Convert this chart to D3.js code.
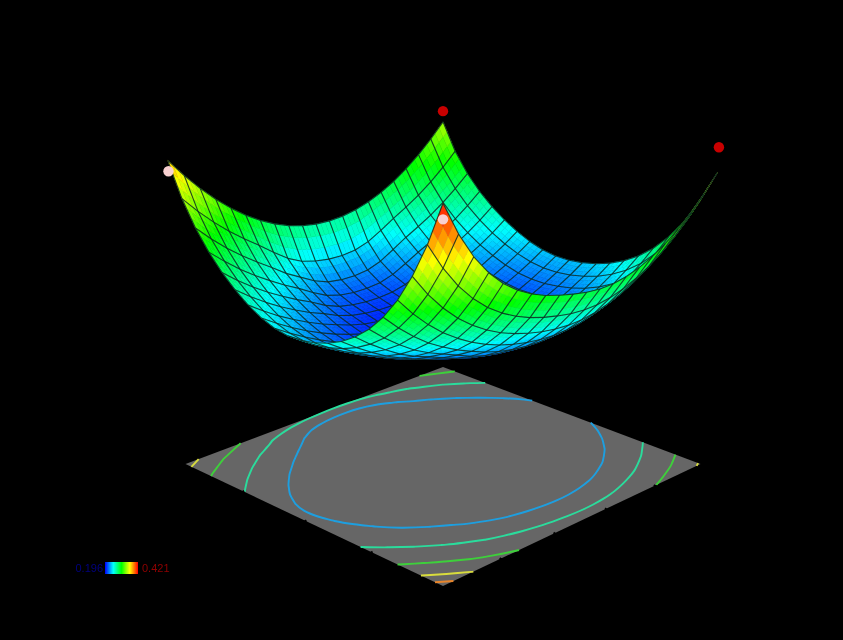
<!DOCTYPE html>
<html>
<head>
<meta charset="utf-8">
<script src="https://d3js.org/d3.v7.min.js"></script>
<style>
  html, body { margin: 0; background: #000; overflow: hidden; }
  text { font-family: "Liberation Sans", Arial, sans-serif; }
</style>
</head>
<body>
<script>
// factor coded levels, u runs along columns and v along rows
var uLevels = [-1,-0.9,-0.8,-0.7,-0.6,-0.5,-0.4,-0.3,-0.2,-0.1,0,0.1,0.2,0.3,0.4,0.5,0.6,0.7,0.8,0.9,1];
var vLevels = [-1,-0.9,-0.8,-0.7,-0.6,-0.5,-0.4,-0.3,-0.2,-0.1,0,0.1,0.2,0.3,0.4,0.5,0.6,0.7,0.8,0.9,1];

// response, one row per v level
var response = [
  [.3474,.3192,.2986,.2829,.2703,.2601,.2516,.2450,.2403,.2379,.2378,.2396,.2430,.2481,.2553,.2647,.2771,.2930,.3131,.3382,.3694],
  [.3324,.3055,.2861,.2714,.2597,.2501,.2422,.2361,.2317,.2295,.2294,.2310,.2342,.2389,.2455,.2543,.2658,.2807,.2997,.3235,.3533],
  [.3192,.2934,.2750,.2612,.2502,.2413,.2340,.2282,.2241,.2220,.2219,.2235,.2264,.2308,.2369,.2450,.2558,.2699,.2879,.3106,.3392],
  [.3077,.2829,.2653,.2523,.2420,.2336,.2267,.2212,.2174,.2154,.2154,.2169,.2196,.2237,.2294,.2370,.2472,.2606,.2777,.2995,.3271],
  [.2980,.2739,.2570,.2446,.2350,.2271,.2205,.2154,.2117,.2098,.2098,.2112,.2138,.2176,.2230,.2303,.2399,.2527,.2692,.2902,.3169],
  [.2900,.2658,.2493,.2376,.2286,.2214,.2152,.2104,.2070,.2052,.2052,.2066,.2090,.2127,.2178,.2247,.2340,.2463,.2623,.2827,.3087],
  [.2838,.2570,.2406,.2298,.2221,.2160,.2107,.2064,.2032,.2016,.2016,.2029,.2053,.2088,.2137,.2204,.2294,.2414,.2570,.2770,.3025],
  [.2793,.2491,.2323,.2225,.2162,.2114,.2071,.2032,.2004,.1988,.1989,.2002,.2026,.2060,.2108,.2174,.2262,.2379,.2532,.2730,.2982],
  [.2766,.2444,.2273,.2181,.2126,.2085,.2047,.2013,.1986,.1971,.1971,.1985,.2008,.2042,.2090,.2155,.2243,.2359,.2512,.2708,.2959],
  [.2757,.2430,.2257,.2167,.2114,.2075,.2037,.2004,.1977,.1962,.1963,.1977,.2001,.2035,.2084,.2149,.2237,.2354,.2507,.2704,.2955],
  [.2765,.2435,.2260,.2169,.2116,.2076,.2039,.2004,.1979,.1964,.1965,.1979,.2004,.2039,.2089,.2155,.2245,.2364,.2519,.2717,.2971],
  [.2790,.2459,.2282,.2189,.2132,.2091,.2052,.2017,.1990,.1975,.1976,.1991,.2017,.2054,.2105,.2173,.2264,.2386,.2542,.2744,.3000],
  [.2833,.2501,.2340,.2232,.2163,.2117,.2075,.2038,.2010,.1995,.1997,.2013,.2040,.2078,.2131,.2202,.2296,.2419,.2577,.2779,.3036],
  [.2894,.2577,.2425,.2310,.2222,.2164,.2113,.2071,.2041,.2025,.2027,.2044,.2072,.2119,.2177,.2250,.2343,.2462,.2623,.2825,.3082],
  [.2972,.2686,.2510,.2400,.2305,.2232,.2166,.2115,.2082,.2065,.2067,.2086,.2115,.2166,.2235,.2312,.2400,.2519,.2682,.2887,.3142],
  [.3068,.2802,.2616,.2482,.2377,.2293,.2223,.2168,.2132,.2114,.2117,.2135,.2168,.2221,.2295,.2374,.2466,.2590,.2757,.2965,.3224],
  [.3181,.2912,.2718,.2573,.2459,.2366,.2290,.2231,.2191,.2172,.2176,.2196,.2231,.2284,.2353,.2438,.2545,.2678,.2851,.3066,.3332],
  [.3312,.3031,.2826,.2671,.2547,.2447,.2366,.2303,.2260,.2240,.2244,.2266,.2303,.2355,.2425,.2516,.2634,.2781,.2966,.3195,.3475],
  [.3460,.3165,.2947,.2781,.2648,.2540,.2452,.2384,.2339,.2318,.2322,.2345,.2385,.2442,.2518,.2617,.2745,.2907,.3109,.3357,.3662],
  [.3626,.3314,.3083,.2904,.2760,.2644,.2549,.2476,.2428,.2405,.2410,.2435,.2478,.2539,.2623,.2732,.2875,.3055,.3281,.3561,.3904],
  [.3810,.3480,.3233,.3040,.2885,.2759,.2656,.2578,.2526,.2502,.2507,.2535,.2581,.2648,.2741,.2864,.3024,.3229,.3489,.3811,.4210]
];

// design points sitting off the surface at the four corners
var pointU = [-1, 1, 1, -1];
var pointV = [-1, -1, 1, 1];
var pointZ = [0.359, 0.3939, 0.4073, 0.3707];

var contourLevels = [0.243, 0.2755, 0.319, 0.364, 0.399];
var uTicks = [-1, -0.5, 0, 0.5, 1];
var vTicks = [-1, -0.6, -0.2, 0.2, 0.6, 1];
var legendLabels = ["0.196", "0.421"];

var paletteStops = [0.196, 0.25225, 0.3085, 0.36475, 0.421];
var paletteColors = ["#0000ff", "#00ffff", "#00ff00", "#ffff00", "#ff0000"];
var contourColors = ["#1f9fe0", "#2bdc9c", "#3ed03a", "#d8dc3c", "#e8852c"];

var width = 843, height = 640;

//colour ramp of the surface
var color = d3.scaleLinear().domain(paletteStops).range(paletteColors).clamp(true);

//camera: 45 degrees round, about 25 down, weak perspective
var sinE = 0.4197, cosE = 0.9076, eye = 15.9;
var zScale = d3.scaleLinear().domain([0.196, 0.421]).range([0.996, 2.74]);
var xScreen = d3.scaleLinear().domain([-1, 1]).range([314.25, 571.75]);
var yScreen = d3.scaleLinear().domain([0, 1]).range([464, 335.25]);

function camera(u, v, h) {
  var X = u - v, D = u + v;
  var Yc = h * cosE - D * sinE;
  var Zc = h * sinE + D * cosE;
  var w = 1 / (1 - Zc / eye);
  return { x: xScreen(X * w), y: yScreen(Yc * w), depth: Zc };
}
function surf(u, v, z) { return camera(u, v, zScale(z)); }
function floor(u, v) { return camera(u, v, 0); }

var svg = d3.select("body").append("svg")
  .attr("width", width).attr("height", height)
  .style("display", "block").style("background", "#000");

var defs = svg.append("defs");
defs.append("filter").attr("id", "soft")
  .attr("x", "-5%").attr("y", "-5%").attr("width", "110%").attr("height", "110%")
  .append("feGaussianBlur").attr("stdDeviation", 0.55);

var chart = svg.append("g").attr("filter", "url(#soft)");

function pathOf(pts) {
  return "M" + pts.map(function (p) { return p.x.toFixed(2) + "," + p.y.toFixed(2); }).join("L") + "Z";
}

// floor plane
chart.append("path")
  .attr("d", pathOf([floor(-1, -1), floor(1, -1), floor(1, 1), floor(-1, 1)]))
  .attr("fill", "#666666");

// contours on the floor, taken from the response table
var flat = d3.merge(response);
var nu = uLevels.length, nv = vLevels.length;
var contours = d3.contours().size([nu, nv]).thresholds(contourLevels)(flat);
var lineGen = d3.line().curve(d3.curveCatmullRom).x(function (p) { return p.x; }).y(function (p) { return p.y; });

function gridU(x) { return -1 + (x - 0.5) * (uLevels[1] - uLevels[0]); }
function gridV(y) { return -1 + (y - 0.5) * (vLevels[1] - vLevels[0]); }
function inside(p) { return p[0] >= 0.499 && p[0] <= nu - 0.499 && p[1] >= 0.499 && p[1] <= nv - 0.499; }

contours.forEach(function (c, i) {
  c.coordinates.forEach(function (poly) {
    poly.forEach(function (ring) {
      // the ring also runs along the table border, only the real level line is drawn
      var run = [], runs = [];
      ring.forEach(function (p) {
        if (inside(p)) { run.push(p); }
        else { if (run.length > 1) runs.push(run); run = []; }
      });
      if (run.length > 1) runs.push(run);
      runs.forEach(function (r) {
        chart.append("path")
          .attr("d", lineGen(r.map(function (p) { return floor(gridU(p[0]), gridV(p[1])); })))
          .attr("fill", "none")
          .attr("stroke", contourColors[i])
          .attr("stroke-width", 1.9)
          .attr("stroke-linejoin", "round");
      });
    });
  });
});

// axis ticks along the two near edges, black on black so they only nick the plane
uTicks.slice(1, -1).forEach(function (u) {
  var a = floor(u, 1), b = floor(u, 1.03);
  chart.append("line").attr("x1", a.x).attr("y1", a.y - 1).attr("x2", b.x).attr("y2", b.y)
    .attr("stroke", "#000").attr("stroke-width", 2);
});
vTicks.slice(1, -1).forEach(function (v) {
  var a = floor(1, v), b = floor(1.03, v);
  chart.append("line").attr("x1", a.x).attr("y1", a.y - 1).attr("x2", b.x).attr("y2", b.y)
    .attr("stroke", "#000").attr("stroke-width", 2);
});

// surface: small facets and mesh lines sorted back to front
var items = [];
var shade = 3;

function corner(i, j) { return surf(uLevels[i], vLevels[j], response[j][i]); }

for (var j = 0; j < nv - 1; j++) {
  for (var i = 0; i < nu - 1; i++) {
    var z00 = response[j][i], z10 = response[j][i + 1], z01 = response[j + 1][i], z11 = response[j + 1][i + 1];
    var du = uLevels[i + 1] - uLevels[i], dv = vLevels[j + 1] - vLevels[j];
    for (var a = 0; a < shade; a++) {
      for (var b = 0; b < shade; b++) {
        var q = [[a, b], [a + 1, b], [a + 1, b + 1], [a, b + 1]].map(function (k) {
          var s = k[0] / shade, t = k[1] / shade;
          var z = z00 * (1 - s) * (1 - t) + z10 * s * (1 - t) + z01 * (1 - s) * t + z11 * s * t;
          var p = surf(uLevels[i] + s * du, vLevels[j] + t * dv, z);
          p.z = z;
          return p;
        });
        items.push({
          kind: "facet", pts: q,
          depth: d3.mean(q, function (p) { return p.depth; }),
          z: d3.mean(q, function (p) { return p.z; })
        });
      }
    }
  }
}
for (var j2 = 0; j2 < nv; j2++) {
  for (var i2 = 0; i2 < nu - 1; i2++) {
    var a1 = corner(i2, j2), b1 = corner(i2 + 1, j2);
    items.push({ kind: "mesh", a: a1, b: b1, depth: (a1.depth + b1.depth) / 2 + 0.15 });
    var a2 = corner(j2, i2), b2 = corner(j2, i2 + 1);
    items.push({ kind: "mesh", a: a2, b: b2, depth: (a2.depth + b2.depth) / 2 + 0.15 });
  }
}
items.sort(function (p, q) { return p.depth - q.depth; });

var surfaceG = chart.append("g");
items.forEach(function (it) {
  if (it.kind === "facet") {
    var c = color(it.z);
    surfaceG.append("path").attr("d", pathOf(it.pts))
      .attr("fill", c).attr("stroke", c).attr("stroke-width", 0.5);
  } else {
    surfaceG.append("line")
      .attr("x1", it.a.x).attr("y1", it.a.y).attr("x2", it.b.x).attr("y2", it.b.y)
      .attr("stroke", "#0a2a22").attr("stroke-opacity", 0.85).attr("stroke-width", 1.1);
  }
});

// design points, red above the surface and pink below it
pointZ.forEach(function (z, k) {
  var p = surf(pointU[k], pointV[k], z);
  var above = z > response[vLevels.indexOf(pointV[k])][uLevels.indexOf(pointU[k])];
  chart.append("circle").attr("cx", p.x).attr("cy", p.y).attr("r", 5.2)
    .attr("fill", above ? "#c80000" : "#f8d0d0");
});

// colour legend
var grad = defs.append("linearGradient").attr("id", "ramp");
paletteStops.forEach(function (v, k) {
  grad.append("stop").attr("offset", (k / (paletteStops.length - 1) * 100) + "%").attr("stop-color", paletteColors[k]);
});
var legend = svg.append("g").attr("filter", "url(#soft)");
var legendX = d3.scaleLinear().domain([0.196, 0.421]).range([105, 138]);
legend.append("rect")
  .attr("x", legendX(0.196)).attr("y", 562)
  .attr("width", legendX(0.421) - legendX(0.196)).attr("height", 12)
  .attr("fill", "url(#ramp)");
legend.append("text").attr("x", legendX(0.196) - 2).attr("y", 571.5)
  .attr("text-anchor", "end").attr("font-size", 11).attr("fill", "#000080").text(legendLabels[0]);
legend.append("text").attr("x", legendX(0.421) + 4).attr("y", 571.5)
  .attr("font-size", 11).attr("fill", "#900000").text(legendLabels[1]);
</script>
</body>
</html>
